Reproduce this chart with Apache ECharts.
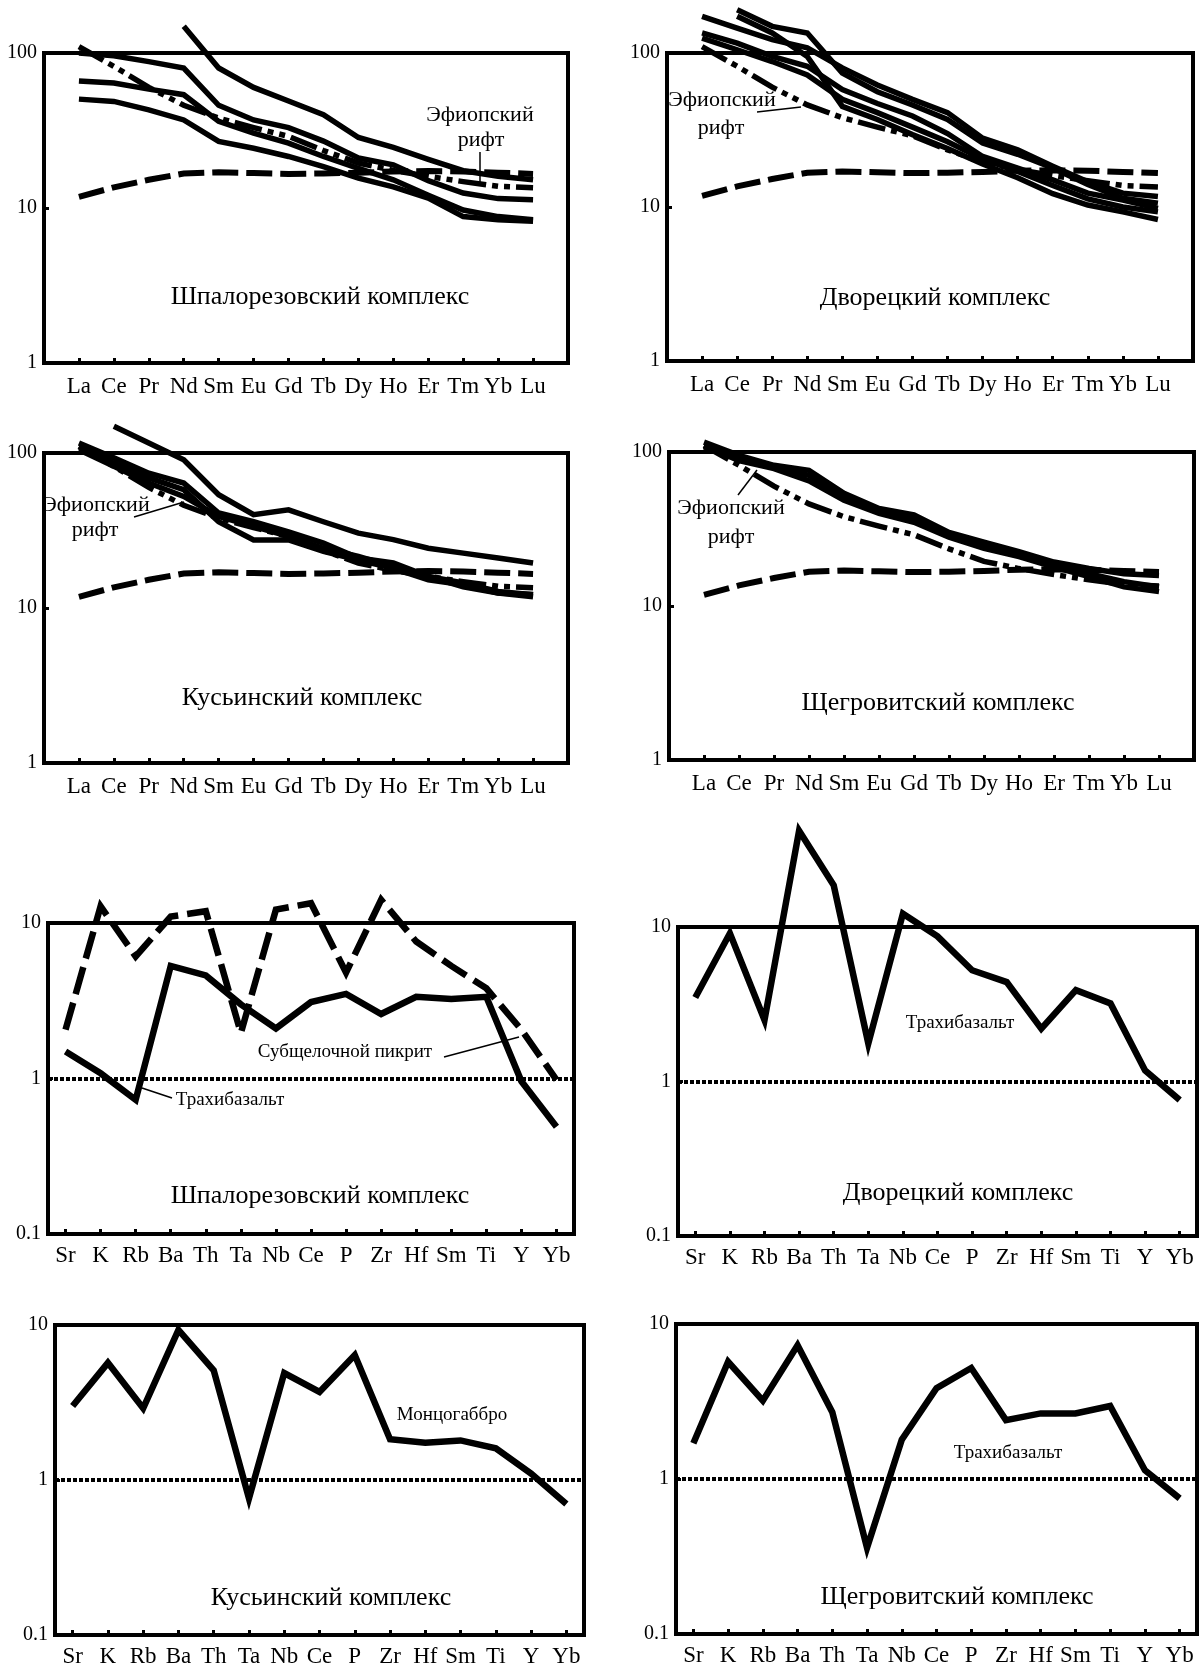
<!DOCTYPE html>
<html>
<head>
<meta charset="utf-8">
<script src="https://cdn.jsdelivr.net/npm/echarts@6/dist/echarts.min.js"></script>
<style>
  html, body { margin: 0; padding: 0; background: #fff; }
  #main { width: 1199px; height: 1672px; }
</style>
</head>
<body>
<div id="main"></div>
<script>
var SERIF = '"Liberation Serif", "Times New Roman", Times, serif';

// x categories
var reeElems = ['La', 'Ce', 'Pr', 'Nd', 'Sm', 'Eu', 'Gd', 'Tb', 'Dy', 'Ho', 'Er', 'Tm', 'Yb', 'Lu'];
var spiderElems = ['Sr', 'K', 'Rb', 'Ba', 'Th', 'Ta', 'Nb', 'Ce', 'P', 'Zr', 'Hf', 'Sm', 'Ti', 'Y', 'Yb'];

// reference curves repeated on every REE panel
var refDashed = [11.8, 13.6, 15.2, 16.7, 17.0, 16.8, 16.6, 16.7, 16.9, 17.2, 17.3, 17.2, 16.9, 16.6];
var ethiopiaRift = [110, 82, 60, 46, 38, 33, 29, 23.5, 19.5, 17.5, 16, 14.8, 13.8, 13.5];

// REE, Шпалорезовский
var shpRee = [
  [null, null, null, 149, 80, 60, 49, 40, 28.5, 24.6, 20.6, 17.4, 16, 15.2],
  [100, 96, 88, 80, 46, 37, 33, 27, 21, 19, 15, 12.5, 11.5, 11.3],
  [66, 64, 58.5, 53.8, 36.2, 30.4, 26.2, 21.5, 18, 15.2, 12.1, 9.7, 8.8, 8.4],
  [50.4, 48.7, 43, 37, 26.9, 24.3, 21.5, 18.5, 15.6, 13.7, 11.6, 8.8, 8.4, 8.2]
];
// REE, Дворецкий
var dvoRee = [
  [173, 145, 122, 108, 80, 62, 50, 41, 28, 23.5, 18.4, 14.6, 12.3, 11.7],
  [null, 191, 149, 135, 74, 56, 46, 37, 26, 22, 17.9, 14, 11.4, 10.6],
  [135, 116, 95, 82, 58, 47, 39, 30, 21.3, 17.9, 15, 12.3, 11.1, 9.8],
  [null, 173, 135, 95, 45, 37, 29.5, 24, 19, 15.5, 12.2, 10.3, 9.3, 8.3],
  [125, 105, 88, 72, 50, 41, 33, 26.5, 20.5, 17, 13.8, 11.3, 10, 9.3]
];
// REE, Кусьинский
var kusRee = [
  [null, 149, 116, 90.5, 53.8, 40, 43, 36, 30.4, 27.6, 24.3, 22.6, 21, 19.5],
  [116, 93, 74, 64, 41, 36, 31, 26.2, 21, 19.5, 16, 14.5, 12.8, 12.2],
  [110, 86, 69, 58, 36, 27.5, 27.5, 23.2, 20.4, 18, 15.2, 14.1, 12.5, 12.2],
  [105, 82, 64, 52.5, 39, 33.6, 29, 24.3, 21.5, 18.5, 16, 13.7, 12.5, 11.8]
];
// REE, Щегровитский
var shgRee = [
  [116, 95, 82, 76, 54, 43, 39, 30, 26, 22.5, 19.3, 17.5, 16.2, 15.8],
  [110, 88, 78, 65, 48.6, 40, 35, 28, 23.7, 20.9, 17.9, 15.5, 13.3, 12.4],
  [108, 90, 80, 70.6, 51, 41, 37, 29.5, 24.9, 21.7, 18.4, 16.2, 14.4, 13.3]
];

// spider diagrams
var shpTrachy = [1.49, 1.08, 0.73, 5.3, 4.6, 3.0, 2.1, 3.1, 3.5, 2.6, 3.35, 3.25, 3.35, 0.96, 0.49];
var shpPicrite = [2.06, 12.8, 6.1, 11.0, 11.9, 1.96, 12.2, 13.4, 4.8, 14.1, 7.6, 5.3, 3.8, 2.06, 0.98];
var dvoTrachy = [3.5, 9.1, 2.5, 42, 18.6, 1.76, 12.2, 8.7, 5.25, 4.4, 2.2, 3.9, 3.2, 1.18, 0.76];
var kusMonzo = [3.0, 5.7, 2.9, 9.3, 5.1, 0.76, 4.9, 3.7, 6.4, 1.83, 1.74, 1.8, 1.6, 1.1, 0.70];
var shgTrachy = [1.70, 5.7, 3.2, 7.3, 2.7, 0.36, 1.79, 3.85, 5.2, 2.4, 2.65, 2.65, 2.96, 1.14, 0.75];
var spiderBase = 1;

var panels = [
  { box: [44, 53, 524, 310], ree: true, solids: shpRee,
    title: 'Шпалорезовский комплекс', titlePos: [320, 297],
    notes: [['Эфиопский', 480, 115], ['рифт', 481, 140]], leaders: [[480, 152, 480, 183]] },
  { box: [667, 53, 526, 308], ree: true, solids: dvoRee,
    title: 'Дворецкий комплекс', titlePos: [935, 298],
    notes: [['Эфиопский', 722, 100], ['рифт', 721, 128]], leaders: [[757, 112, 801, 107]] },
  { box: [44, 453, 524, 310], ree: true, solids: kusRee,
    title: 'Кусьинский комплекс', titlePos: [302, 698],
    notes: [['Эфиопский', 96, 505], ['рифт', 95, 530]], leaders: [[134, 517, 184, 502]] },
  { box: [669, 452, 525, 308], ree: true, solids: shgRee,
    title: 'Щегровитский комплекс', titlePos: [938, 703],
    notes: [['Эфиопский', 731, 508], ['рифт', 731, 537]], leaders: [[738, 495, 757, 470]] },
  { box: [48, 923, 526, 311], ree: false, solids: [shpTrachy], dashed: shpPicrite,
    title: 'Шпалорезовский комплекс', titlePos: [320, 1196],
    notes: [['Субщелочной пикрит', 345, 1052], ['Трахибазальт', 230, 1100]],
    leaders: [[444, 1057, 519, 1037], [142, 1088, 172, 1098]] },
  { box: [678, 927, 519, 309], ree: false, solids: [dvoTrachy],
    title: 'Дворецкий комплекс', titlePos: [958, 1193],
    notes: [['Трахибазальт', 960, 1023]], leaders: [] },
  { box: [55, 1325, 529, 310], ree: false, solids: [kusMonzo],
    title: 'Кусьинский комплекс', titlePos: [331, 1598],
    notes: [['Монцогаббро', 452, 1415]], leaders: [] },
  { box: [676, 1324, 521, 310], ree: false, solids: [shgTrachy],
    title: 'Щегровитский комплекс', titlePos: [957, 1597],
    notes: [['Трахибазальт', 1008, 1453]], leaders: [] }
];

function pairs(vals, offset) {
  var out = [];
  for (var i = 0; i < vals.length; i++) {
    if (vals[i] != null) out.push([i + offset, vals[i]]);
  }
  return out;
}

function lineSeries(k, data, width, type) {
  return {
    type: 'line', xAxisIndex: k, yAxisIndex: k, data: data,
    symbol: 'none', clip: false, silent: true, animation: false,
    lineStyle: { color: '#000', width: width, type: type, join: 'miter', cap: 'butt' },
    z: 3
  };
}

function textEl(str, x, y, size) {
  return {
    type: 'text', x: x, y: y, z: 10,
    style: {
      text: str, fill: '#000', font: size + 'px ' + SERIF,
      fontSize: size, fontFamily: SERIF,
      align: 'center', verticalAlign: 'middle',
      textAlign: 'center', textVerticalAlign: 'middle'
    }
  };
}

var option = {
  backgroundColor: '#fff',
  animation: false,
  grid: [], xAxis: [], yAxis: [], series: [], graphic: []
};

panels.forEach(function (p, k) {
  var b = p.box;
  option.grid.push({
    left: b[0], top: b[1], width: b[2], height: b[3],
    show: true, borderColor: '#000', borderWidth: 4, backgroundColor: 'transparent',
    containLabel: false, outerBoundsMode: 'none'
  });
  var cats = p.ree ? [''].concat(reeElems, ['']) : spiderElems;
  option.xAxis.push({
    type: 'category', gridIndex: k, data: cats, boundaryGap: !p.ree,
    axisLine: { show: false },
    axisTick: { show: true, inside: true, length: 5, alignWithLabel: true, interval: 0,
      lineStyle: { color: '#000', width: 3 } },
    axisLabel: { interval: 0, color: '#000', fontFamily: SERIF, fontSize: 23,
      margin: p.ree ? 12 : 10 },
    splitLine: { show: false }
  });
  option.yAxis.push({
    type: 'log', logBase: 10, gridIndex: k,
    min: p.ree ? 1 : 0.1, max: p.ree ? 100 : 10,
    axisLine: { show: false },
    axisTick: { show: true, inside: true, length: 5, lineStyle: { color: '#000', width: 3 } },
    minorTick: { show: false },
    axisLabel: { color: '#000', fontFamily: SERIF, fontSize: 20, margin: 7,
      showMinLabel: true, showMaxLabel: true,
      formatter: function (v) { return String(parseFloat(Number(v).toPrecision(4))); } },
    splitLine: { show: false }
  });

  if (p.ree) {
    option.series.push(lineSeries(k, pairs(refDashed, 1), 6, [26, 8]));
    option.series.push(lineSeries(k, pairs(ethiopiaRift, 1), 5.5, [28, 6, 6, 6, 6, 6]));
    p.solids.forEach(function (s) {
      option.series.push(lineSeries(k, pairs(s, 1), 5.5, 'solid'));
    });
  } else {
    var first = lineSeries(k, pairs(p.solids[0], 0), 6.5, 'solid');
    first.markLine = {
      silent: true, symbol: 'none', animation: false,
      label: { show: false },
      lineStyle: { color: '#000', width: 4, type: [4, 2] },
      data: [{ yAxis: spiderBase }]
    };
    option.series.push(first);
    for (var i = 1; i < p.solids.length; i++) {
      option.series.push(lineSeries(k, pairs(p.solids[i], 0), 6.5, 'solid'));
    }
    if (p.dashed) {
      option.series.push(lineSeries(k, pairs(p.dashed, 0), 6.5, [28, 9]));
    }
  }

  option.graphic.push(textEl(p.title, p.titlePos[0], p.titlePos[1], 26));
  var noteSize = p.ree ? 22 : 19;
  p.notes.forEach(function (n) {
    option.graphic.push(textEl(n[0], n[1], n[2], noteSize));
  });
  p.leaders.forEach(function (l) {
    option.graphic.push({
      type: 'line', z: 10,
      shape: { x1: l[0], y1: l[1], x2: l[2], y2: l[3] },
      style: { stroke: '#000', lineWidth: 1.5 }
    });
  });
});

var chart = echarts.init(document.getElementById('main'));
chart.setOption(option);
</script>
</body>
</html>
